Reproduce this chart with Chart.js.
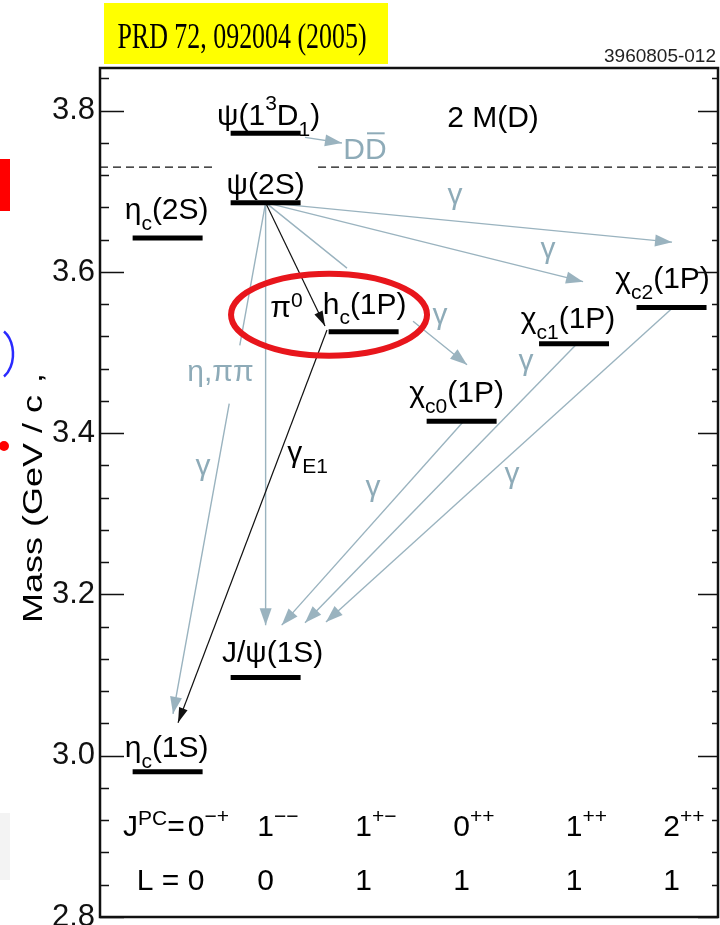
<!DOCTYPE html>
<html>
<head>
<meta charset="utf-8">
<script src="https://cdn.jsdelivr.net/npm/chart.js@4.4.1/dist/chart.umd.min.js"></script>
<style>
html,body{margin:0;padding:0;background:#fff;}
#wrap{position:relative;width:720px;height:925px;}
canvas{display:block;}
</style>
</head>
<body>
<div id="wrap"><canvas id="c" width="720" height="925"></canvas></div>
<script>
// ---------------- data ----------------
const levelNames  = ['η_{c}(1S)','J/ψ(1S)','η_{c}(2S)','ψ(2S)','ψ(1^{3}D_{1})','h_{c}(1P)','χ_{c0}(1P)','χ_{c1}(1P)','χ_{c2}(1P)'];
const levelMass   = [2.980, 3.097, 3.642, 3.686, 3.772, 3.526, 3.415, 3.511, 3.556];
const levelColumn = [0, 1, 0, 1, 1, 2, 3, 4.147, 5.142];

// transitions (start / end in axis units: column, GeV)
const arrowX1 = [1.0,   1.0,   1.0,   1.0,   1.0,   1.0,   1.626, 3.014, 4.177, 5.157, 1.402];
const arrowY1 = [3.686, 3.686, 3.686, 3.686, 3.686, 3.686, 3.528, 3.414, 3.511, 3.556, 3.767];
const arrowX2 = [5.147, 4.239, 3.055, 1.0,   0.055, 1.606, 0.106, 1.164, 1.402, 1.616, 1.779];
const arrowY2 = [3.637, 3.588, 3.485, 3.162, 3.052, 3.533, 3.041, 3.162, 3.165, 3.166, 3.760];
const arrowKind = ['g','g','g','g','g','b','b','g','g','g','g'];

// transition labels
const transText = ['γ','γ','γ','η,ππ','γ','γ_{E1}','π^{0}','γ','γ','γ','D~{D}','2 M(D)'];
const transX    = [2.932, 3.881, 2.779, 0.539, 0.361, 1.427, 1.213, 2.096, 3.657, 3.514, 2.014, 3.320];
const transY    = [3.684, 3.617, 3.536, 3.465, 3.348, 3.364, 3.544, 3.322, 3.479, 3.338, 3.740, 3.780];
const transKind = ['g','g','g','g','g','b','b','g','g','g','g','b'];

// quantum numbers row
const jpcLabels = ['0^{−+}','1^{−−}','1^{+−}','0^{++}','1^{++}','2^{++}'];
const lLabels   = ['0','0','1','1','1','1'];
const rowColumn = [0, 1, 2, 3, 4.147, 5.142];
const rowJpcY = 2.900, rowLY = 2.8335;

const threshold2MD = 3.73;
const yTickMajor = [2.8, 3.0, 3.2, 3.4, 3.6, 3.8];

// ---------------- layout / style ----------------
const HALF = 0.357;
const GRAY = '#9ab3bf', GRAYTXT = '#8eabb8', BLACK = '#000';
const FONT = 'Liberation Sans';
const F = 30;
const labelDx = [-1, 7, -1, 0, 3, 1, -5, -6, -9];
const labelDy = [15, 16, 19, 9, 8, 18, 19, 16, 19];
const gaps = {2: [0.404, 0.732], 4: [0.279, 0.393]};
const dashGap = [0.504, 1.535];
const firstColShift = 0.29;
const ellipse = {x: 1.647, y: 3.547, rx: 98, ry: 41};

Chart.defaults.font.family = FONT;

// ---------------- datasets ----------------
const datasets = [];
levelMass.forEach((m, i) => {
  datasets.push({
    data: [{x: levelColumn[i] - HALF, y: m}, {x: levelColumn[i] + HALF, y: m}],
    showLine: true, borderColor: BLACK, borderWidth: 5, pointRadius: 0, borderCapStyle: 'butt'
  });
});
const arrowOrder = [];
arrowKind.forEach((k, i) => { if (k === 'b') arrowOrder.push(i); });
arrowKind.forEach((k, i) => { if (k === 'g') arrowOrder.push(i); });
arrowOrder.forEach(i => {
  const x1 = arrowX1[i], y1 = arrowY1[i], x2 = arrowX2[i], y2 = arrowY2[i];
  let data = [{x: x1, y: y1}];
  if (gaps[i]) {
    const [a, b] = gaps[i];
    data.push({x: x1 + (x2 - x1) * a, y: y1 + (y2 - y1) * a});
    data.push({x: null, y: null});
    data.push({x: x1 + (x2 - x1) * b, y: y1 + (y2 - y1) * b});
  }
  data.push({x: x2, y: y2});
  datasets.push({
    data, showLine: true, spanGaps: false,
    borderColor: arrowKind[i] === 'b' ? '#111' : GRAY,
    borderWidth: arrowKind[i] === 'b' ? 1.2 : 1.4,
    pointRadius: 0, arrowHead: arrowKind[i]
  });
});
datasets.push({
  data: [{x: -0.69, y: threshold2MD}, {x: dashGap[0], y: threshold2MD}, {x: null, y: null},
         {x: dashGap[1], y: threshold2MD}, {x: 5.616, y: threshold2MD}],
  showLine: true, spanGaps: false, borderColor: '#111', borderWidth: 1.3, borderDash: [8, 5], pointRadius: 0
});

// ---------------- rich text ----------------
function parseRich(s) {
  const segs = []; let i = 0, buf = '';
  while (i < s.length) {
    const c = s[i];
    if ((c === '^' || c === '_' || c === '~') && s[i + 1] === '{') {
      if (buf) { segs.push({t: buf, m: 0}); buf = ''; }
      const j = s.indexOf('}', i);
      segs.push({t: s.slice(i + 2, j), m: c === '^' ? 1 : c === '_' ? 2 : 3});
      i = j + 1;
    } else { buf += c; i++; }
  }
  if (buf) segs.push({t: buf, m: 0});
  return segs;
}
function drawRich(ctx, s, x, y, opt) {
  const size = opt.size || F, fam = opt.family || FONT;
  const small = Math.round(size * 0.7);
  const supDy = opt.supDy !== undefined ? opt.supDy : -0.42 * size;
  const subDy = opt.subDy !== undefined ? opt.subDy : 0.36 * size;
  const segs = parseRich(s);
  const fontFor = m => ((m === 1 || m === 2) ? small : size) + 'px "' + fam + '"';
  let w = 0;
  segs.forEach(g => { ctx.font = fontFor(g.m); g.w = ctx.measureText(g.t).width; w += g.w; });
  let cx = opt.align === 'center' ? x - w / 2 : opt.align === 'right' ? x - w : x;
  ctx.fillStyle = opt.color || BLACK; ctx.textAlign = 'left'; ctx.textBaseline = 'alphabetic';
  segs.forEach(g => {
    ctx.font = fontFor(g.m);
    const dy = g.m === 1 ? supDy : g.m === 2 ? subDy : 0;
    ctx.fillText(g.t, cx, y + dy);
    if (g.m === 3) {
      ctx.strokeStyle = opt.color || BLACK; ctx.lineWidth = 2;
      ctx.beginPath(); ctx.moveTo(cx + 2, y - 0.86 * size); ctx.lineTo(cx + g.w - 2, y - 0.86 * size); ctx.stroke();
    }
    cx += g.w;
  });
  return w;
}

// ---------------- plugin ----------------
const deco = {
  id: 'deco',
  afterDatasetsDraw(chart) {
    const {ctx} = chart; const xs = chart.scales.x, ys = chart.scales.y;
    const X = v => xs.getPixelForValue(v), Y = v => ys.getPixelForValue(v);
    // arrowheads
    chart.data.datasets.forEach((ds, i) => {
      if (!ds.arrowHead) return;
      const pts = chart.getDatasetMeta(i).data;
      const p2 = pts[pts.length - 1], p1 = pts[pts.length - 2];
      const ang = Math.atan2(p2.y - p1.y, p2.x - p1.x);
      const L = ds.arrowHead === 'b' ? 15 : 17, H = ds.arrowHead === 'b' ? 4.5 : 6;
      ctx.save(); ctx.fillStyle = ds.borderColor; ctx.translate(p2.x, p2.y); ctx.rotate(ang);
      ctx.beginPath(); ctx.moveTo(0, 0); ctx.lineTo(-L, H); ctx.lineTo(-L, -H); ctx.closePath(); ctx.fill();
      ctx.restore();
    });
    ctx.save();
    // level labels
    levelNames.forEach((n, i) => {
      const opt = {align: 'center'};
      if (i === 4) opt.supDy = -0.5 * F;
      drawRich(ctx, n, X(levelColumn[i]) + labelDx[i], Y(levelMass[i]) - labelDy[i], opt);
    });
    // transition labels
    transText.forEach((t, i) => {
      const opt = {align: 'center', color: transKind[i] === 'g' ? GRAYTXT : BLACK};
      if (t.indexOf('π^') === 0) opt.supDy = -0.33 * F;
      drawRich(ctx, t, X(transX[i]), Y(transY[i]), opt);
    });
    // J^PC row and L row
    jpcLabels.forEach((t, i) => {
      const col = i === 0 ? rowColumn[0] + firstColShift : rowColumn[i];
      const xc = X(col);
      ctx.font = F + 'px "' + FONT + '"';
      const dw = ctx.measureText(t[0]).width;
      drawRich(ctx, t, xc - dw / 2, Y(rowJpcY), {align: 'left', supDy: -0.45 * F});
      if (i === 0) drawRich(ctx, 'J^{PC}=', xc - dw / 2 - 3, Y(rowJpcY), {align: 'right', supDy: -0.38 * F});
    });
    lLabels.forEach((t, i) => {
      const col = i === 0 ? rowColumn[0] + firstColShift : rowColumn[i];
      const xc = X(col);
      ctx.font = F + 'px "' + FONT + '"';
      const dw = ctx.measureText(t).width;
      drawRich(ctx, t, xc, Y(rowLY), {align: 'center'});
      if (i === 0) drawRich(ctx, 'L = ', xc - dw / 2, Y(rowLY), {align: 'right'});
    });
    // highlight ellipse
    ctx.strokeStyle = '#e8161c'; ctx.lineWidth = 6;
    ctx.beginPath(); ctx.ellipse(X(ellipse.x), Y(ellipse.y), ellipse.rx, ellipse.ry, 0, 0, Math.PI * 2); ctx.stroke();
    ctx.restore();
  },
  afterDraw(chart) {
    const {ctx, chartArea: a} = chart; const ys = chart.scales.y;
    ctx.save();
    // frame
    ctx.strokeStyle = '#111'; ctx.lineWidth = 2.5;
    ctx.strokeRect(a.left, a.top, a.right - a.left, a.bottom - a.top);
    // inner ticks
    ctx.lineWidth = 1.5;
    for (let k = 0; k <= 26; k++) {
      const v = 2.8 + k * 0.04;
      if (v > ys.max + 1e-9) break;
      const major = yTickMajor.some(m => Math.abs(m - v) < 1e-6);
      const py = Math.round(ys.getPixelForValue(v)) + 0.5;
      ctx.beginPath();
      ctx.moveTo(a.left, py); ctx.lineTo(a.left + (major ? 24 : 9), py);
      ctx.moveTo(a.right, py); ctx.lineTo(a.right - (major ? 20 : 6), py);
      ctx.stroke();
    }
    // title box
    ctx.fillStyle = '#ffff00'; ctx.fillRect(104, 3, 284, 61);
    ctx.fillStyle = '#000'; ctx.font = '36px "Liberation Serif"'; ctx.textBaseline = 'alphabetic'; ctx.textAlign = 'center';
    ctx.save(); ctx.translate(242, 48); ctx.scale(0.72, 1); ctx.fillText('PRD 72, 092004 (2005)', 0, 0); ctx.restore();
    // figure id
    ctx.font = '19px "Liberation Sans"'; ctx.textAlign = 'left'; ctx.fillStyle = '#222';
    ctx.fillText('3960805-012', 604, 62);
    // y-axis title
    ctx.save(); ctx.translate(42, 623); ctx.rotate(-Math.PI / 2); ctx.scale(1, 0.78);
    ctx.font = '36px "Liberation Sans"'; ctx.fillStyle = '#000'; ctx.textAlign = 'left';
    ctx.fillText('Mass (GeV / c', 0, 0);
    const tw = ctx.measureText('Mass (GeV / c').width;
    ctx.fillText(',', tw + 12, 0);
    ctx.restore();
    // side decorations
    ctx.fillStyle = '#ff0000'; ctx.fillRect(0, 159, 10, 52);
    ctx.strokeStyle = '#2a2aff'; ctx.lineWidth = 2.5;
    ctx.beginPath(); ctx.ellipse(-5, 354, 18, 26, 0, -Math.PI / 3, Math.PI / 3); ctx.stroke();
    ctx.fillStyle = '#ff0000'; ctx.beginPath(); ctx.arc(4, 446, 5, 0, Math.PI * 2); ctx.fill();
    ctx.fillStyle = '#f3f3f3'; ctx.fillRect(0, 813, 10, 67);
    ctx.restore();
  }
};

new Chart(document.getElementById('c').getContext('2d'), {
  type: 'scatter',
  data: {datasets},
  options: {
    responsive: false, animation: false, devicePixelRatio: 1,
    layout: {padding: {left: 0, right: 2, top: 68, bottom: 8}},
    plugins: {legend: {display: false}, tooltip: {enabled: false}, title: {display: false}},
    scales: {
      x: {type: 'linear', min: -0.69, max: 5.616, display: false},
      y: {
        type: 'linear', min: 2.8, max: 3.853,
        afterFit: s => { s.width = 100; s.paddingTop = 0; s.paddingBottom = 0; },
        grid: {display: false, drawTicks: false},
        border: {display: true, color: '#111', width: 2},
        ticks: {
          stepSize: 0.04, autoSkip: false, padding: 5, color: '#111',
          font: {family: FONT, size: 31},
          callback: v => yTickMajor.some(m => Math.abs(m - v) < 1e-6) ? v.toFixed(1) : ''
        }
      }
    }
  },
  plugins: [deco]
});
</script>
</body>
</html>
